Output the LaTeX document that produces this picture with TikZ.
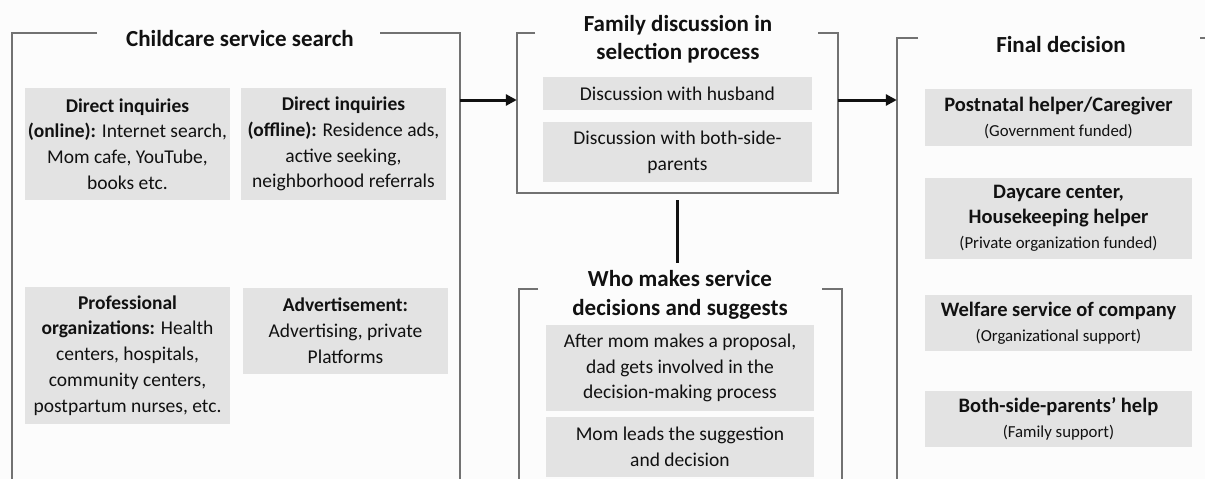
\documentclass[tikz,border=0pt]{standalone}
\usepackage{fontspec}
\setmainfont{Carlito}
\usetikzlibrary{arrows.meta}
\definecolor{boxgray}{HTML}{E3E3E3}
\definecolor{framegray}{HTML}{727272}
\definecolor{ink}{HTML}{111111}
\definecolor{bg}{HTML}{FCFCFC}
\newcommand{\sub}[1]{{\fontsize{16.8}{20}\selectfont #1}}
\begin{document}
\begin{tikzpicture}[x=1pt,y=-1pt,
  item/.style={fill=boxgray, align=center, inner sep=0pt, text=ink,
    font=\fontsize{19.5}{25.8}\selectfont},
  ritem/.style={item, font=\fontsize{20.5}{25}\selectfont},
  ttl/.style={font=\bfseries\fontsize{23}{28.5}\selectfont, align=center, inner sep=0pt, text=ink},
  frameline/.style={draw=framegray, line width=1.8pt},
  arr/.style={draw=ink, line width=3pt, -{Triangle[length=11pt,width=11pt]}},
  link/.style={draw=ink, line width=3pt},
  area/.style={inner sep=0pt, draw=none}]
\useasboundingbox[fill=bg] (0,0) rectangle (1205,479);

% ---------- frame areas ----------
\node[area, minimum width=448pt, minimum height=446pt] (F1) at (236,256) {};
\node[area, minimum width=321pt, minimum height=159pt] (F2) at (677.5,113.5) {};
\node[area, minimum width=323pt, minimum height=190pt] (F3) at (680.5,384) {};
\node[area, minimum width=308pt, minimum height=441pt] (F4) at (1051,258.5) {};

% ---------- titles ----------
\node[ttl] (T1) at (240,39) {Childcare service search};
\node[ttl] (T2) at (678,39) {Family discussion in\\selection process};
\node[ttl] (T3) at (680,295) {Who makes service\\decisions and suggests};
\node[ttl] (T4) at (1061,45) {Final decision};

% ---------- frame lines ----------
\draw[frameline] (97,33) -| (F1.south west);
\draw[frameline] (380,33) -| (F1.south east);
\draw[frameline] (535,33) -| (F2.west |- F2.south) -| (838,33) -- (818,33);
\draw[frameline] (538,289) -| (F3.south west);
\draw[frameline] (822,289) -| (F3.south east);
\draw[frameline] (918,38) -| (F4.south west);
\draw[frameline] (1200,38) -- (1205,38);

% ---------- left items ----------
\node[item, minimum width=205pt, minimum height=112pt] (L1) at (127.5,144)
  {\textbf{Direct inquiries}\\\textbf{(online):} Internet search,\\Mom cafe, YouTube,\\books etc.};
\node[item, minimum width=205pt, minimum height=112pt] (L2) at (343.5,144)
  {\textbf{Direct inquiries}\\\textbf{(offline):} Residence ads,\\active seeking,\\neighborhood referrals};
\node[item, minimum width=205pt, minimum height=137pt] (L3) at (127.5,355.5)
  {\textbf{Professional}\\\textbf{organizations:} Health\\centers, hospitals,\\community centers,\\postpartum nurses, etc.};
\node[item, minimum width=205pt, minimum height=86pt] (L4) at (345.5,331)
  {\textbf{Advertisement:}\\Advertising, private\\Platforms};

% ---------- middle items ----------
\node[item, minimum width=269pt, minimum height=33pt] (M1) at (677.5,93.5)
  {Discussion with husband};
\node[item, minimum width=269pt, minimum height=60pt] (M2) at (677.5,152)
  {Discussion with both-side-\\parents};
\node[item, minimum width=268pt, minimum height=86pt] (M3) at (680,368)
  {After mom makes a proposal,\\dad gets involved in the\\decision-making process};
\node[item, minimum width=268pt, minimum height=60pt] (M4) at (680,447)
  {Mom leads the suggestion\\and decision};

% ---------- right items ----------
\node[ritem, minimum width=267pt, minimum height=57pt] (R1) at (1058.5,117.5)
  {\textbf{Postnatal helper/Caregiver}\\\sub{(Government funded)}};
\node[ritem, minimum width=267pt, minimum height=81pt] (R2) at (1058.5,218.5)
  {\textbf{Daycare center,}\\\textbf{Housekeeping helper}\\\sub{(Private organization funded)}};
\node[ritem, minimum width=267pt, minimum height=56pt] (R3) at (1058.5,323)
  {\textbf{Welfare service of company}\\\sub{(Organizational support)}};
\node[ritem, minimum width=267pt, minimum height=56pt] (R4) at (1058.5,419)
  {\textbf{Both-side-parents’ help}\\\sub{(Family support)}};

% ---------- connectors ----------
\coordinate (ay) at (0,100);
\draw[arr] (F1.east |- ay) -- (F2.west |- ay);
\draw[arr] (F2.east |- ay) -- (F4.west |- ay);
\draw[link] ([yshift=-7pt]F2.south) -- ([yshift=26pt]F3.north -| F2.south);
\end{tikzpicture}
\end{document}
